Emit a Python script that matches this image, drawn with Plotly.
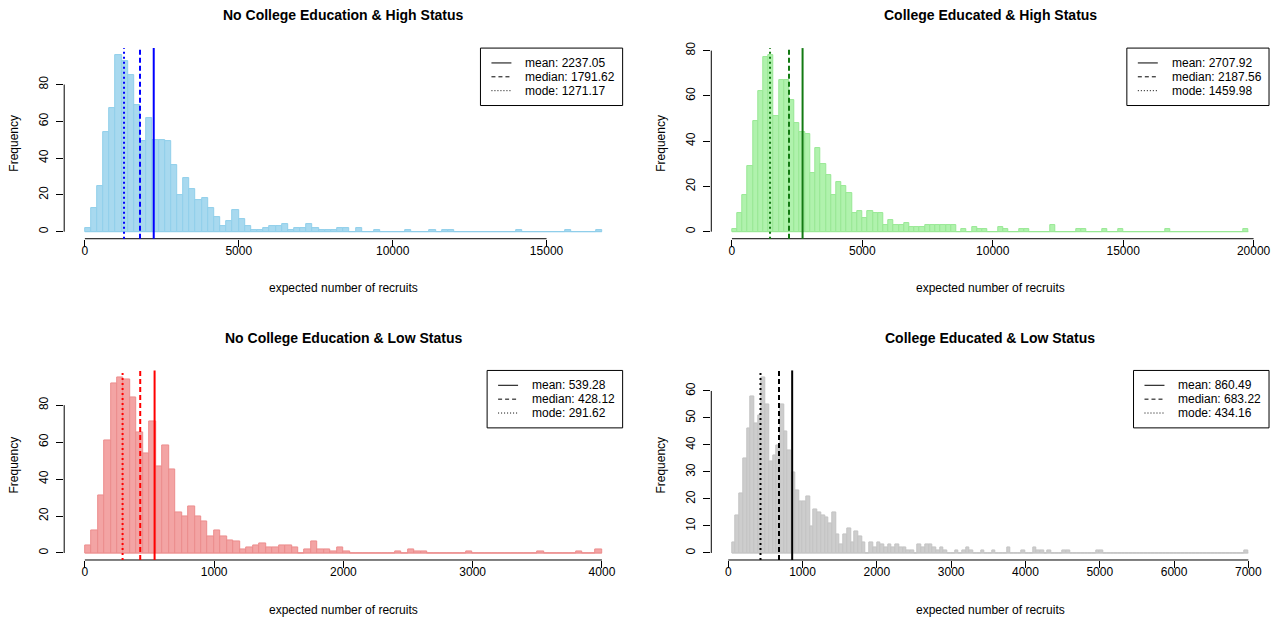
import plotly.graph_objects as go

W, H = 1285, 620

# ---------------- data ----------------
panel_titles = ["No College Education & High Status", "College Educated & High Status",
                "No College Education & Low Status", "College Educated & Low Status"]
x_label = "expected number of recruits"
y_label = "Frequency"

# histogram breaks: first break and bin width of each panel
break_start = [0, 0, 0, 50]
bin_width = [200, 200, 50, 50]

counts_nc_high = [2, 13, 25, 54, 67, 96, 93, 85, 69, 49,
                  62, 50, 50, 49, 36, 20, 29, 23, 17, 18,
                  13, 8, 3, 6, 12, 7, 3, 1, 1, 2,
                  3, 3, 4, 1, 2, 2, 4, 2, 1, 1,
                  1, 2, 2, 0, 2, 0, 0, 1, 0, 0,
                  0, 0, 1, 0, 0, 0, 1, 0, 1, 1,
                  0, 0, 0, 0, 0, 0, 0, 0, 0, 0,
                  1, 0, 0, 0, 0, 0, 0, 0, 1, 0,
                  0, 0, 0, 1]
counts_c_high = [1, 8, 16, 29, 49, 62, 77, 78, 51, 67,
                 67, 58, 48, 44, 43, 26, 37, 30, 25, 16,
                 22, 20, 17, 8, 9, 6, 9, 8, 8, 3,
                 5, 3, 3, 4, 2, 2, 2, 3, 3, 3,
                 3, 3, 3, 0, 1, 0, 2, 1, 1, 0,
                 0, 2, 1, 0, 0, 1, 1, 0, 0, 0,
                 0, 3, 0, 0, 0, 0, 1, 1, 0, 0,
                 0, 1, 0, 0, 1, 0, 0, 0, 0, 0,
                 0, 0, 0, 1, 0, 0, 0, 0, 0, 0,
                 0, 0, 0, 0, 0, 0, 0, 0, 1]
counts_nc_low = [4, 12, 31, 61, 92, 95, 94, 84, 65, 54,
                 71, 47, 58, 45, 22, 20, 25, 20, 17, 9,
                 12, 9, 7, 6, 2, 3, 4, 5, 3, 3,
                 4, 4, 3, 0, 2, 6, 2, 2, 1, 3,
                 1, 0, 0, 0, 0, 0, 0, 0, 1, 0,
                 2, 1, 1, 0, 0, 0, 0, 0, 0, 1,
                 0, 0, 0, 0, 0, 0, 0, 0, 0, 0,
                 1, 0, 0, 0, 0, 0, 1, 0, 0, 2]
counts_c_low = [4, 14, 22, 35, 46, 58, 48, 51, 65,
                55, 34, 36, 40, 55, 45, 38, 30, 23, 19,
                19, 21, 10, 16, 15, 14, 13, 11, 15, 7,
                3, 7, 9, 4, 8, 6, 4, 0, 4, 2,
                4, 3, 2, 3, 2, 3, 2, 2, 1, 1,
                0, 3, 2, 3, 3, 2, 1, 2, 1, 0,
                0, 1, 0, 1, 2, 1, 0, 0, 1, 0,
                0, 1, 0, 0, 0, 2, 0, 0, 0, 1,
                0, 0, 2, 1, 1, 0, 1, 0, 0, 0,
                1, 1, 0, 0, 0, 0, 0, 0, 0, 1,
                1, 0, 0, 0, 0, 0, 0, 0, 0, 0,
                0, 0, 0, 0, 0, 0, 0, 0, 0, 0,
                0, 0, 0, 0, 0, 0, 0, 0, 0, 0,
                0, 0, 0, 0, 0, 0, 0, 0, 0, 1]
panel_counts = [counts_nc_high, counts_c_high, counts_nc_low, counts_c_low]

means = [2237.05, 2707.92, 539.28, 860.49]
medians = [1791.62, 2187.56, 428.12, 683.22]
modes = [1271.17, 1459.98, 291.62, 434.16]

x_tick_vals = [[0, 5000, 10000, 15000],
               [0, 5000, 10000, 15000, 20000],
               [0, 1000, 2000, 3000, 4000],
               [0, 1000, 2000, 3000, 4000, 5000, 6000, 7000]]
y_tick_vals = [[0, 20, 40, 60, 80],
               [0, 20, 40, 60, 80],
               [0, 20, 40, 60, 80],
               [0, 10, 20, 30, 40, 50, 60]]

# ---------------- style ----------------
FONT = "Liberation Sans, Arial, Helvetica, sans-serif"
fills = ['#A8D9EF', '#B0F2AD', '#F3A4A4', '#CDCDCD']
borders = ['#90CFEA', '#98E894', '#EC8D8D', '#C3C3C3']
stat_colors = ['#0000FF', '#137A13', '#FF0000', '#000000']

col_px = [(64.3, 623.6), (712.4, 1271.0)]
row_px = [(42.5, 235.0), (368.0, 559.4)]


def fx(px):
    return px / W


def fy(py):
    return 1 - py / H


# approximate Arial advance widths (em) for legend box sizing
CW = {'m': 0.833, 'e': 0.556, 'a': 0.556, 'n': 0.556, 'd': 0.556, 'i': 0.222,
      'o': 0.556, ':': 0.278, ' ': 0.278, '.': 0.278}


def text_w(s, size):
    return sum(CW.get(ch, 0.556) for ch in s) * size


fig = go.Figure()
shapes = []
annotations = []
layout_axes = {}

for i in range(4):
    r, c = divmod(i, 2)
    L, R = col_px[c]
    T, B = row_px[r]
    sfx = '' if i == 0 else str(i + 1)
    xref, yref = 'x' + sfx, 'y' + sfx
    counts = panel_counts[i]
    w = bin_width[i]
    lo = break_start[i]
    hi = lo + w * len(counts)
    xr = [lo - 0.04 * (hi - lo), hi + 0.04 * (hi - lo)]
    ymax = max(counts)
    yr = [-0.04 * ymax, 1.04 * ymax]
    centers = [lo + w * (k + 0.5) for k in range(len(counts))]

    fig.add_trace(go.Bar(x=centers, y=counts, width=w, xaxis=xref, yaxis=yref,
                         marker=dict(color=fills[i], line=dict(color=borders[i], width=1)),
                         hoverinfo='skip', showlegend=False))

    layout_axes['xaxis' + sfx] = dict(
        domain=[fx(L), fx(R)], range=xr, anchor=yref, tickvals=x_tick_vals[i],
        ticktext=[str(v) for v in x_tick_vals[i]], ticks='outside', ticklen=7,
        tickcolor='black', tickwidth=1, showline=False, showgrid=False, zeroline=False,
        tickfont=dict(family=FONT, size=12, color='black'), ticklabelstandoff=-6)
    layout_axes['yaxis' + sfx] = dict(
        domain=[fy(B), fy(T)], range=yr, anchor=xref, tickvals=y_tick_vals[i],
        ticktext=[str(v) for v in y_tick_vals[i]], ticks='outside', ticklen=7,
        tickcolor='black', tickwidth=1, showline=False, showgrid=False, zeroline=False,
        tickangle=-90, tickfont=dict(family=FONT, size=12, color='black'),
        ticklabelstandoff=3)

    # baseline of the empty bins
    shapes.append(dict(type='line', xref=xref, yref=yref, x0=lo, x1=hi, y0=0, y1=0,
                       line=dict(color=borders[i], width=1), layer='below'))

    # axis lines spanning the tick range (R style)
    xt = x_tick_vals[i]
    yt = y_tick_vals[i]
    shapes.append(dict(type='line', xref=xref + ' domain', yref=yref + ' domain',
                       x0=(xt[0] - xr[0]) / (xr[1] - xr[0]), x1=(xt[-1] - xr[0]) / (xr[1] - xr[0]),
                       y0=0, y1=0, line=dict(color='black', width=1)))
    shapes.append(dict(type='line', xref=xref + ' domain', yref=yref + ' domain',
                       x0=0, x1=0, y0=(yt[0] - yr[0]) / (yr[1] - yr[0]),
                       y1=(yt[-1] - yr[0]) / (yr[1] - yr[0]), line=dict(color='black', width=1)))

    # mean / median / mode lines
    for val, dash in [(means[i], 'solid'), (medians[i], '5px,3px'), (modes[i], '2px,3px')]:
        shapes.append(dict(type='line', xref=xref, yref=yref + ' domain', x0=val, x1=val,
                           y0=0, y1=1, line=dict(color=stat_colors[i], width=2, dash=dash)))

    # titles
    cx = (L + R) / 2
    annotations.append(dict(text=panel_titles[i], xref='paper', yref='paper', x=fx(cx),
                            y=fy(T - 33), xanchor='center', yanchor='middle', showarrow=False,
                            font=dict(family=FONT, size=14, color='black', weight='bold')))
    annotations.append(dict(text=x_label, xref='paper', yref='paper', x=fx(cx),
                            y=fy(B + 50), xanchor='center', yanchor='middle', showarrow=False,
                            font=dict(family=FONT, size=12, color='black')))
    annotations.append(dict(text=y_label, xref='paper', yref='paper', x=fx(L - 50),
                            y=fy((T + B) / 2), xanchor='center', yanchor='middle',
                            showarrow=False, textangle=-90,
                            font=dict(family=FONT, size=12, color='black')))

    # legend box
    labels = ['mean: %.2f' % means[i], 'median: %.2f' % medians[i], 'mode: %.2f' % modes[i]]
    tw = max(text_w(s, 12) for s in labels)
    bw = 43 + tw + 10
    bx0 = R - bw
    shapes.append(dict(type='rect', xref='paper', yref='paper', x0=fx(bx0), x1=fx(R),
                       y0=fy(T + 58), y1=fy(T), line=dict(color='black', width=1),
                       fillcolor='white'))
    for j, (lab, dash) in enumerate(zip(labels, ['solid', '4px,3px', '1px,2px'])):
        yy = T + 15 + 14 * j
        shapes.append(dict(type='line', xref='paper', yref='paper', x0=fx(bx0 + 11),
                           x1=fx(bx0 + 31), y0=fy(yy), y1=fy(yy),
                           line=dict(color='black', width=1, dash=dash)))
        annotations.append(dict(text=lab, xref='paper', yref='paper', x=fx(bx0 + 43),
                                y=fy(yy), xanchor='left', yanchor='middle', showarrow=False,
                                font=dict(family=FONT, size=12, color='black')))

fig.update_layout(width=W, height=H, margin=dict(l=0, r=0, t=0, b=0), autosize=False,
                  paper_bgcolor='white', plot_bgcolor='white', bargap=0, showlegend=False,
                  shapes=shapes, annotations=annotations, **layout_axes)

pin_to_corner = ("document.body.style.margin='0px';"
                 "var gd=document.getElementById('{plot_id}');"
                 "gd.style.position='fixed';gd.style.left='0px';gd.style.top='0px';")

fig.write_html("out.html", post_script=pin_to_corner, config={'displayModeBar': False})
